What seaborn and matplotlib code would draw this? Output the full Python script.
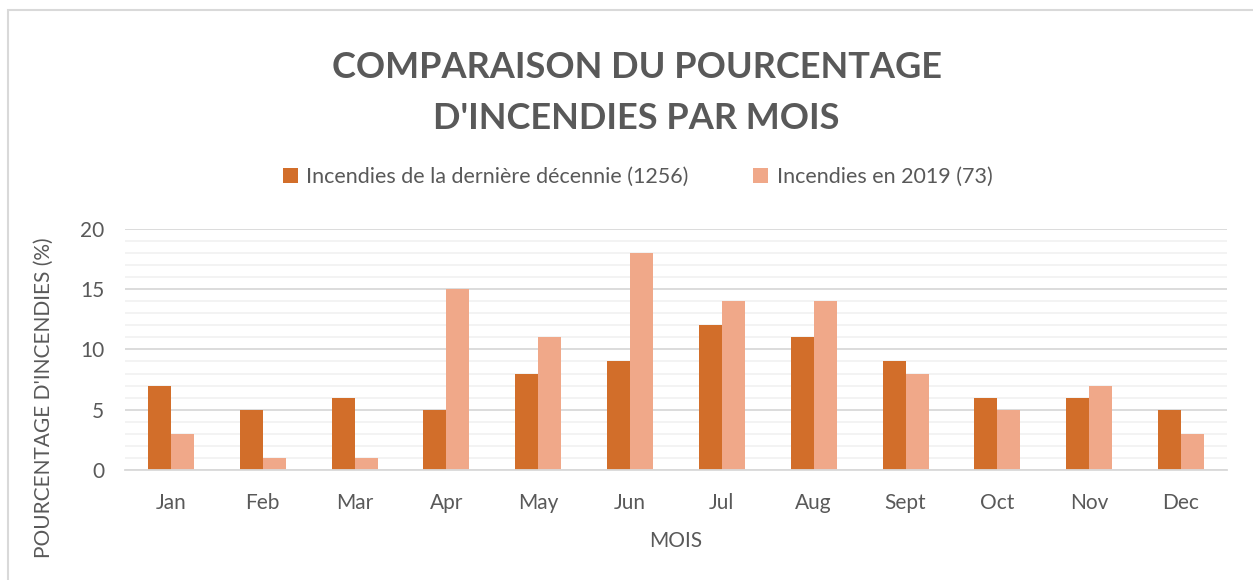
import pandas as pd
import seaborn as sns
import matplotlib.pyplot as plt
from matplotlib.patches import Rectangle
from matplotlib.ticker import MultipleLocator

# Data
months = ["Jan", "Feb", "Mar", "Apr", "May", "Jun", "Jul", "Aug", "Sept", "Oct", "Nov", "Dec"]
decade = [7, 5, 6, 5, 8, 9, 12, 11, 9, 6, 6, 5]
year_2019 = [3, 1, 1, 15, 11, 18, 14, 14, 8, 5, 7, 3]
series_names = ["Incendies de la dernière décennie (1256)", "Incendies en 2019 (73)"]

df = pd.DataFrame({
    "Mois": months * 2,
    "Pourcentage": decade + year_2019,
    "Serie": [series_names[0]] * len(months) + [series_names[1]] * len(months),
})

sns.set_theme(style="white")
plt.rcParams["font.family"] = ["Lato", "DejaVu Sans"]
text_color = "#595959"

fig = plt.figure(figsize=(12.53, 5.80), dpi=100)
ax = fig.add_axes([0.0998, 0.19, 0.8794, 0.415])

sns.barplot(
    data=df, x="Mois", y="Pourcentage", hue="Serie", order=months,
    hue_order=series_names, palette=["#D26E2A", "#F0A889"],
    width=0.5, saturation=1, linewidth=0, ax=ax, legend=True,
)

# Gridlines: major every 5, minor every 1
ax.set_ylim(0, 20)
ax.yaxis.set_major_locator(MultipleLocator(5))
ax.yaxis.set_minor_locator(MultipleLocator(1))
ax.grid(axis="y", which="minor", color="#F2F2F2", linewidth=1.3)
ax.grid(axis="y", which="major", color="#D9D9D9", linewidth=1.3)
ax.set_axisbelow(True)
for side in ["top", "right", "left"]:
    ax.spines[side].set_visible(False)
ax.spines["bottom"].set_color("#D9D9D9")
ax.spines["bottom"].set_linewidth(1.3)
ax.tick_params(axis="both", which="both", length=0, labelsize=15, colors=text_color)
ax.tick_params(axis="x", pad=17)
ax.tick_params(axis="y", pad=15)
ax.set_xlim(-0.5, 11.5)

ax.set_xlabel("MOIS", fontsize=15, color=text_color, labelpad=13)
ax.set_ylabel("POURCENTAGE D'INCENDIES (%)", fontsize=15, color=text_color)
ax.yaxis.set_label_coords(-0.0644, 0.30)

# Legend above the plot
handles, labels = ax.get_legend_handles_labels()
ax.legend_.remove()
fig.legend(
    handles, labels, loc="center", bbox_to_anchor=(0.509, 0.695), ncol=2,
    frameon=False, fontsize=15.5, labelcolor=text_color, handlelength=0.7,
    handleheight=0.7, handletextpad=0.4, columnspacing=3.0,
)

fig.text(0.508, 0.840, "COMPARAISON DU POURCENTAGE\nD'INCENDIES PAR MOIS",
         ha="center", va="center", fontsize=26, fontweight="bold",
         color=text_color, linespacing=1.65)

# Light chart frame
fig.patches.append(Rectangle((0.0065, -0.05), 1.2, 1.033, transform=fig.transFigure,
                             fill=False, edgecolor="#D9D9D9", linewidth=1.5))

fig.savefig("out.png", dpi=100)
